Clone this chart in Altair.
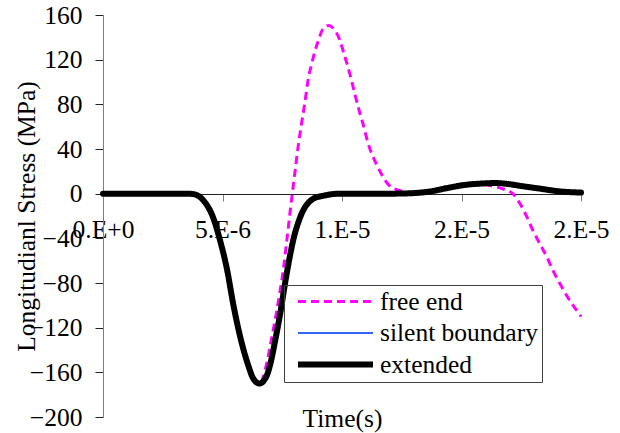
import json

import altair as alt
import pandas as pd

# Series shown in the legend, in drawing order (last one on top)
series_names = ["free end", "silent boundary", "extended"]
series_colors = ["#FF00FF", "#3366FF", "#000000"]
series_dash = [[8, 5], [1, 0], [1, 0]]
series_widths = [3, 2, 6]

# Axis ticks and labels
y_ticks = [-200, -160, -120, -80, -40, 0, 40, 80, 120, 160]
x_ticks = [0, 5e-6, 1e-5, 1.5e-5, 2e-5]
x_tick_labels = ["0.E+0", "5.E-6", "1.E-5", "2.E-5", "2.E-5"]

# Time in microseconds, longitudinal stress in MPa
extended_t = [0, 1, 2, 3, 3.5, 3.8, 4.2, 4.6, 4.9, 5.2, 5.45, 5.75, 6.05, 6.3,
              6.55, 6.85, 7.05, 7.2, 7.41, 7.62, 7.82, 8.0, 8.2, 8.4, 8.6, 8.8,
              9.2, 9.9, 11, 12, 12.8, 13.7, 14.4, 15.2, 15.8, 16.4, 17.0,
              17.45, 18.28, 19.12, 20]
extended_v = [0, 0, 0, 0, 0, -0.5, -6, -21, -42, -69, -99, -129, -152, -166,
              -170, -163, -148, -132, -108, -80, -56, -38, -24, -14, -8, -4.5,
              -2, 0, 0, 0, 0.3, 2, 5, 8, 9, 9.5, 8.5,
              7, 4.5, 2, 1]

# The silent-boundary run lies on top of the extended-bar run
silent_t = list(extended_t)
silent_v = list(extended_v)

free_t = [0, 1, 2, 3, 3.5, 3.8, 4.2, 4.6, 4.9, 5.2, 5.45, 5.75, 6.05, 6.3,
          6.55, 6.85, 7.06, 7.27, 7.41, 7.54, 7.69, 7.82, 7.92, 8.03, 8.17,
          8.31, 8.45, 8.59, 8.73, 8.84, 9.01, 9.22, 9.46, 9.62, 9.77, 9.92,
          10.06, 10.2, 10.33, 10.46, 10.6, 10.75, 10.9, 11.03, 11.17, 11.3,
          11.45, 11.59, 11.73, 11.87, 12.05, 12.29, 12.55, 12.85, 13.3, 13.7,
          14.4, 15.2, 15.9, 16.3, 16.74, 17.15, 17.45, 17.74, 17.99, 18.28,
          18.58, 18.83, 19.21, 19.54, 19.87, 20]
free_v = [0, 0, 0, 0, 0, -0.5, -6, -21, -42, -69, -99, -129, -152, -166,
          -170, -152, -129, -105, -87, -69, -42, -18, 0, 19, 43,
          63, 82, 103, 116, 125.5, 137, 148, 150.7, 148.5, 144, 137,
          127, 117, 107, 96, 84, 72, 61, 50, 40, 33,
          26, 20, 14.5, 10, 6, 3.6, 2, 1, 0.8, 2,
          5, 7.5, 8, 6.8, 4.2, 0, -9, -21, -33, -45,
          -57, -69, -84, -96, -106, -110]

rows = []
for name, ts, vs in zip(series_names,
                        [free_t, silent_t, extended_t],
                        [free_v, silent_v, extended_v]):
    for t, v in zip(ts, vs):
        rows.append({"series": name, "time": t * 1e-6, "stress": v})
df = pd.DataFrame(rows)

FONT = "Liberation Serif"
FS = 25.5

x_enc = alt.X(
    "time:Q",
    scale=alt.Scale(domain=[0, 2e-5], nice=False, zero=False),
    axis=alt.Axis(
        values=x_ticks,
        labelExpr=f"{json.dumps(x_tick_labels)}[round(datum.value / 5e-6)]",
        offset=-223,
        title="Time(s)",
        titleX=239,
        titleY=224,
        titleBaseline="middle",
        titleAlign="center",
        grid=False,
        domainColor="#222222",
        tickColor="#7f7f7f",
        tickSize=7,
        labelPadding=16,
        labelBaseline="top",
        labelFlush=False,
        labelOverlap=False,
        labelFont=FONT,
        labelFontSize=FS,
    ),
)
y_enc = alt.Y(
    "stress:Q",
    scale=alt.Scale(domain=[-200, 160], nice=False, zero=False),
    axis=alt.Axis(
        values=y_ticks,
        title="Longitudianl Stress (MPa)",
        titleX=-77,
        titleY=201,
        titleAngle=-90,
        titleBaseline="middle",
        titleAlign="center",
        grid=False,
        domainColor="#808080",
        tickColor="#222222",
        tickSize=8,
        labelPadding=13,
        labelAlign="right",
        labelBaseline="middle",
        labelOverlap=False,
        labelFont=FONT,
        labelFontSize=FS,
    ),
)

legend = alt.Legend(
    title=None,
    orient="none",
    legendX=181,
    legendY=270,
    padding=4,
    strokeColor="#404040",
    symbolType="stroke",
    symbolSize=5625,
    symbolOffset=7,
    labelOffset=4,
    clipHeight=25,
    rowPadding=5.5,
    labelFont=FONT,
    labelFontSize=FS,
    labelColor="#000000",
    labelLimit=400,
)

color_enc = alt.Color("series:N", sort=series_names,
                      scale=alt.Scale(domain=series_names, range=series_colors),
                      legend=legend)
dash_enc = alt.StrokeDash("series:N", sort=series_names,
                          scale=alt.Scale(domain=series_names, range=series_dash),
                          legend=legend)
width_enc = alt.StrokeWidth("series:N", sort=series_names,
                            scale=alt.Scale(type="ordinal", domain=series_names,
                                            range=series_widths),
                            legend=legend)

layers = []
for name in series_names:
    cap = "round" if name == "extended" else "butt"
    layers.append(
        alt.Chart(df)
        .transform_filter(alt.datum.series == name)
        .mark_line(interpolate="monotone", strokeCap=cap, strokeJoin="round")
        .encode(x=x_enc, y=y_enc, color=color_enc,
                strokeDash=dash_enc, strokeWidth=width_enc)
    )

chart = (
    alt.layer(*layers)
    .properties(
        width=478,
        height=402,
        autosize=alt.AutoSizeParams(type="none"),
        padding={"left": 103, "top": 15, "right": 39, "bottom": 16},
        background="white",
    )
    .configure(font=FONT)
    .configure_view(stroke=None)
    .configure_axis(
        labelFont=FONT,
        labelFontSize=FS,
        labelColor="#000000",
        titleFont=FONT,
        titleFontSize=FS,
        titleFontWeight="normal",
        titleColor="#000000",
        domainWidth=1,
        tickWidth=1,
    )
    .configure_legend(labelFont=FONT, labelFontSize=FS)
)

chart.save("out.html", embed_options={"renderer": "svg", "actions": False})
